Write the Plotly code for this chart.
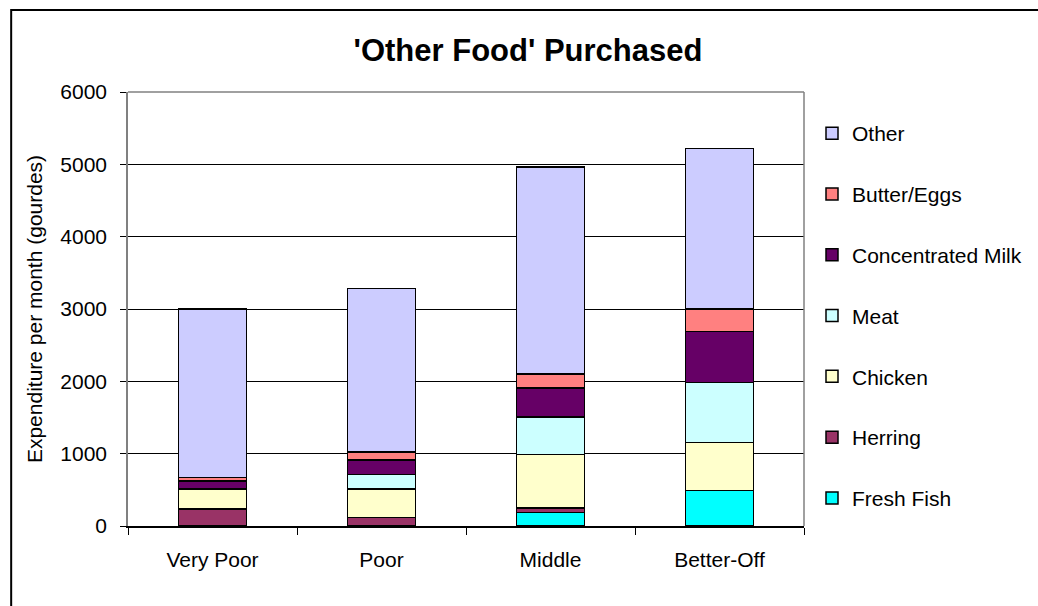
import plotly.graph_objects as go

categories = ["Very Poor", "Poor", "Middle", "Better-Off"]
fresh_fish = [0, 0, 190, 490]
herring = [235, 115, 60, 0]
chicken = [277, 397, 740, 662]
meat = [0, 202, 515, 830]
concentrated_milk = [110, 198, 400, 705]
butter_eggs = [51, 111, 195, 310]
other = [2327, 2263, 2860, 2225]

series = [
    ("Fresh Fish", fresh_fish, "#00FFFF"),
    ("Herring", herring, "#993366"),
    ("Chicken", chicken, "#FFFFCC"),
    ("Meat", meat, "#CCFFFF"),
    ("Concentrated Milk", concentrated_milk, "#660066"),
    ("Butter/Eggs", butter_eggs, "#FF8080"),
    ("Other", other, "#CCCCFF"),
]

FONT = "Liberation Sans, Arial, sans-serif"
FS = 21

fig = go.Figure()
n = len(series)
for i, (name, vals, col) in enumerate(series):
    fig.add_trace(go.Bar(
        x=categories, y=vals, name=name, legendgroup=f"g{i}",
        legendrank=n - i,
        marker=dict(color=col, line=dict(color="black", width=1.5)),
    ))

W, H = 1038, 606
L, R, T, B = 128, 805, 92, 526

def px_x(p):
    return (p - L) / (R - L)

def px_y(p):
    return (B - p) / (B - T)

fig.update_layout(
    width=W, height=H,
    margin=dict(l=L, r=W - R, t=T, b=H - B, pad=0),
    paper_bgcolor="white", plot_bgcolor="white",
    barmode="stack", bargap=0.6,
    font=dict(family=FONT, size=FS, color="black"),
    title=dict(text="<b>'Other Food' Purchased</b>", x=528 / W, xref="container",
               xanchor="center", y=1 - 50 / H, yref="container", yanchor="middle",
               font=dict(size=31, family=FONT, color="black")),
    legend=dict(x=px_x(812), xanchor="left", y=px_y(113), yanchor="top",
                traceorder="grouped", tracegroupgap=30.5,
                font=dict(size=FS, family=FONT), itemwidth=30,
                bgcolor="rgba(0,0,0,0)"),
    showlegend=True,
)

fig.update_xaxes(
    showgrid=False, showline=True, linecolor="black", linewidth=1.5,
    ticks="outside", tickson="boundaries", ticklen=7, tickcolor="black",
    tickfont=dict(size=FS, family=FONT), ticklabelstandoff=14,
    mirror=False, fixedrange=True,
)
fig.update_yaxes(
    range=[0, 6000], dtick=1000, tickformat="d",
    showgrid=True, gridcolor="black", gridwidth=1.2,
    showline=True, linecolor="#808080", linewidth=1.5,
    ticks="outside", ticklen=6, tickcolor="black",
    tickfont=dict(size=FS, family=FONT), ticklabelstandoff=9,
    zeroline=False,
    title=dict(text="Expenditure per month (gourdes)", font=dict(size=FS, family=FONT),
               standoff=12),
)

# plot area border (top and right) in grey
fig.add_shape(type="line", xref="paper", yref="paper", x0=0, x1=1, y0=1, y1=1,
              line=dict(color="#808080", width=1.5), layer="above")
fig.add_shape(type="line", xref="paper", yref="paper", x0=1, x1=1, y0=0, y1=1,
              line=dict(color="#808080", width=1.5), layer="above")
# outer chart frame (left and top edges visible)
fig.add_shape(type="rect", xref="paper", yref="paper",
              x0=px_x(11), x1=px_x(1200), y0=px_y(700), y1=px_y(10),
              line=dict(color="black", width=2), fillcolor="rgba(0,0,0,0)", layer="below")

fig.write_html("out.html")
